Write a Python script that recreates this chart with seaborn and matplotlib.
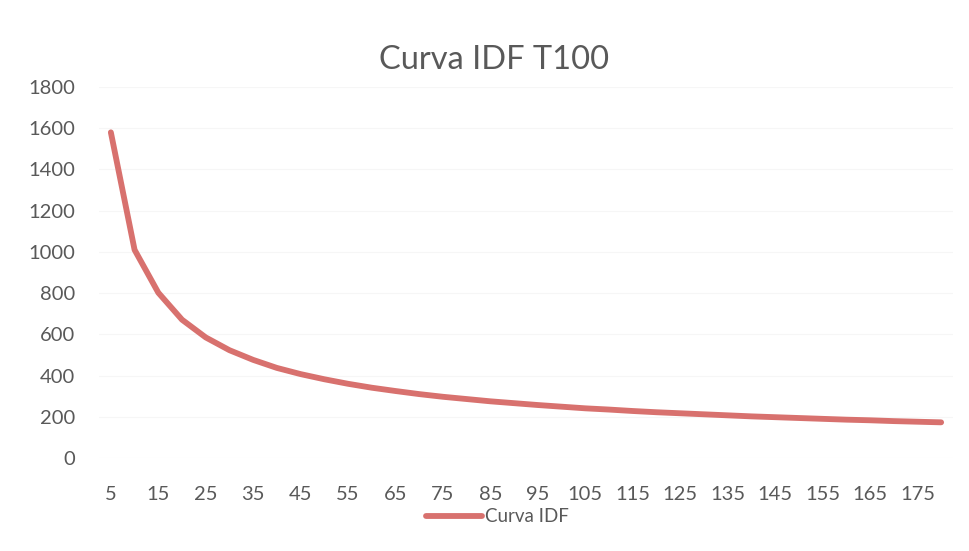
import matplotlib
matplotlib.use("Agg")
import matplotlib.pyplot as plt
import seaborn as sns
import pandas as pd

# Rainfall duration (min) and intensity for the 100-year return period
duracion = [5, 10, 15, 20, 25, 30, 35, 40, 45, 50, 55, 60,
            65, 70, 75, 80, 85, 90, 95, 100, 105, 110, 115, 120,
            125, 130, 135, 140, 145, 150, 155, 160, 165, 170, 175, 180]
intensidad = [1580, 1010, 802, 671, 585, 523, 476, 437, 407, 382, 360, 341,
              325, 310, 297, 286, 275, 266, 257, 249, 241, 235, 228, 222,
              217, 212, 207, 202, 198, 194, 190, 186, 183, 179, 176, 173]
xticks = [5, 15, 25, 35, 45, 55, 65, 75, 85, 95, 105, 115, 125, 135, 145, 155, 165, 175]
yticks = [0, 200, 400, 600, 800, 1000, 1200, 1400, 1600, 1800]

titulo = "Curva IDF T100"
serie = "Curva IDF"

df = pd.DataFrame({"Duracion": duracion, serie: intensidad})

sns.set_theme(style="white")
plt.rcParams["font.family"] = ["Lato", "DejaVu Sans"]

text_color = "#595959"
line_color = "#d8716e"

fig = plt.figure(figsize=(9.7, 5.51), dpi=100)
ax = fig.add_axes([99 / 970, 1 - 458 / 551, (953 - 99) / 970, (458 - 87) / 551])

sns.lineplot(data=df, x="Duracion", y=serie, ax=ax, color=line_color,
             linewidth=4.2, label=serie, legend=False,
             solid_joinstyle="round", solid_capstyle="round")

ax.set_xlim(2.5, 182.5)
ax.set_ylim(0, 1800)
ax.set_xticks(xticks)
ax.set_xticklabels([str(t) for t in xticks])
ax.set_yticks(yticks)
ax.set_yticklabels([str(t) for t in yticks])
ax.tick_params(axis="both", length=0, labelsize=14.5, colors=text_color)
ax.tick_params(axis="x", pad=20)
ax.tick_params(axis="y", pad=17)
ax.set_xlabel("")
ax.set_ylabel("")
ax.grid(axis="y", color="#f6f6f6", linewidth=0.8)
for s in ax.spines.values():
    s.set_visible(False)

fig.text(494 / 970, 1 - 60 / 551, titulo, ha="center", va="center",
         fontsize=23.5, color=text_color)

handles, labels = ax.get_legend_handles_labels()
fig.legend(handles, labels, loc="center", bbox_to_anchor=(497 / 970, 1 - 517 / 551),
           frameon=False, fontsize=13.5, handlelength=3.0, handletextpad=0.15,
           labelcolor=text_color)

fig.savefig("out.png", dpi=100, facecolor="white")
